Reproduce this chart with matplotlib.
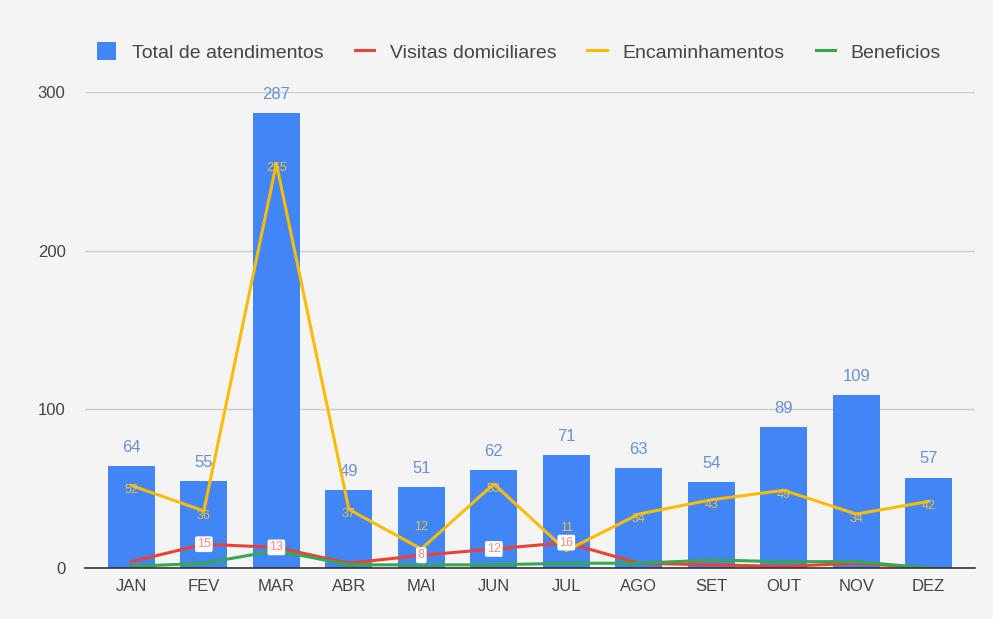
import numpy as np
import matplotlib.pyplot as plt

plt.rcParams['font.family'] = ['Liberation Sans', 'DejaVu Sans']

meses = ['JAN', 'FEV', 'MAR', 'ABR', 'MAI', 'JUN', 'JUL', 'AGO', 'SET', 'OUT', 'NOV', 'DEZ']
total = [64, 55, 287, 49, 51, 62, 71, 63, 54, 89, 109, 57]
visitas = [4, 15, 13, 3, 8, 12, 16, 3, 2, 1, 3, 0]
encaminhamentos = [52, 36, 255, 37, 12, 53, 11, 34, 43, 49, 34, 42]
beneficios = [1, 3, 11, 2, 2, 2, 3, 3, 5, 4, 4, 0]

azul = '#4285F4'
vermelho = '#EA4335'
amarelo = '#FBBC04'
verde = '#34A853'

fig = plt.figure(figsize=(9.93, 6.19), dpi=100)
fig.patch.set_facecolor('#f4f4f4')
ax = fig.add_axes([0.0856, 0.0824, 0.8964, 0.7686])
ax.set_facecolor('#f4f4f4')

x = np.arange(len(meses))
h_bar = ax.bar(x, total, width=0.65, color=azul, label='Total de atendimentos', zorder=2)
h_vis, = ax.plot(x, visitas, color=vermelho, lw=2.2, label='Visitas domiciliares', zorder=3)
h_enc, = ax.plot(x, encaminhamentos, color=amarelo, lw=2.2, label='Encaminhamentos', zorder=4)
h_ben, = ax.plot(x, beneficios, color=verde, lw=2.2, label='Beneficios', zorder=3)

# rótulos das barras
for xi, v in zip(x, total):
    ax.text(xi, v + 7, str(v), ha='center', va='bottom', color='#6a8fd6', fontsize=12)

# rótulos das linhas
for xi, v, r in zip(x, encaminhamentos, visitas):
    yy = v + 14 if abs(v - r) < 10 else v - 3
    ax.text(xi, yy, str(v), ha='center', va='center', color='#e8c04a', fontsize=9, zorder=6)
for xi, v in zip(x, visitas):
    if v >= 8:
        ax.text(xi, v, str(v), ha='center', va='center', color='#f28b82', fontsize=9, zorder=7,
                bbox=dict(boxstyle='round,pad=0.15', fc='white', ec='none'))

ax.set_xlim(-0.64, 11.64)
ax.set_ylim(0, 300)
ax.set_yticks([0, 100, 200, 300])
ax.set_xticks(x)
ax.set_xticklabels(meses)
ax.tick_params(axis='both', length=0, labelsize=12, colors='#444444')
ax.tick_params(axis='y', pad=14)
ax.tick_params(axis='x', pad=8)
ax.grid(axis='y', color='#cccccc', lw=1, zorder=0)
ax.set_axisbelow(True)
for s in ['top', 'right', 'left']:
    ax.spines[s].set_visible(False)
ax.spines['bottom'].set_color('#333333')
ax.spines['bottom'].set_linewidth(1.2)
ax.spines['bottom'].set_zorder(5)

fig.legend([h_bar, h_vis, h_enc, h_ben],
           ['Total de atendimentos', 'Visitas domiciliares', 'Encaminhamentos', 'Beneficios'],
           loc='upper left', bbox_to_anchor=(0.08, 0.96), ncol=4, frameon=False,
           fontsize=14, handlelength=1.0, handleheight=1.0, columnspacing=1.6,
           handletextpad=0.8, labelcolor='#444444')

plt.savefig('out.png', dpi=100, facecolor=fig.get_facecolor())
